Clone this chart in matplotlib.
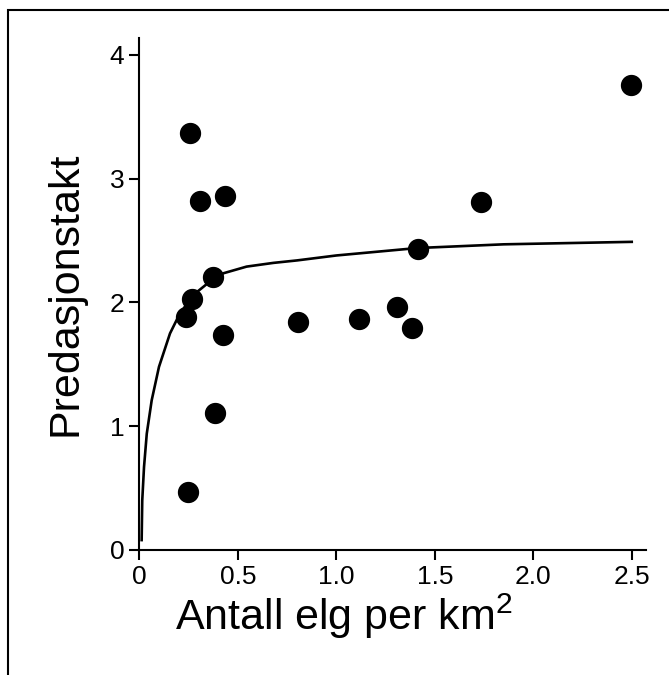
import matplotlib
matplotlib.use("Agg")
import matplotlib.pyplot as plt
from matplotlib.patches import Rectangle

plt.rcParams["font.family"] = ["Liberation Sans", "DejaVu Sans"]
plt.rcParams["mathtext.fontset"] = "custom"
plt.rcParams["mathtext.rm"] = "Liberation Sans"

# observed points: moose density vs predation rate
elg = [0.256, 0.307, 0.434, 0.372, 0.268, 0.236, 0.422, 0.385, 0.246,
       0.807, 1.115, 1.306, 1.386, 1.413, 1.734, 2.496]
predasjon = [3.37, 2.82, 2.86, 2.21, 2.03, 1.88, 1.74, 1.11, 0.47,
             1.845, 1.867, 1.966, 1.796, 2.43, 2.81, 3.755]

# fitted response curve
curve_x = [0.011, 0.014, 0.023, 0.037, 0.062, 0.099, 0.155, 0.197, 0.265,
           0.358, 0.426, 0.544, 0.68, 0.80, 1.0, 1.41, 1.85, 2.50]
curve_y = [0.08, 0.40, 0.67, 0.94, 1.21, 1.48, 1.75, 1.885, 2.05,
           2.17, 2.236, 2.29, 2.32, 2.34, 2.38, 2.44, 2.47, 2.49]

xticks = [0, 0.5, 1.0, 1.5, 2.0, 2.5]
xticklabels = ["0", "0.5", "1.0", "1.5", "2.0", "2.5"]
yticks = [0, 1, 2, 3, 4]

fig = plt.figure(figsize=(6.69, 6.75), dpi=100)
ax = fig.add_axes([0.2085, 0.1852, 0.7564, 0.759])

ax.plot(curve_x, curve_y, color="black", lw=1.9, solid_joinstyle="round")
ax.scatter(elg, predasjon, s=205, color="black", zorder=3, clip_on=False)

ax.set_xlim(0, 2.57)
ax.set_ylim(0, 4.14)
ax.set_xticks(xticks)
ax.set_xticklabels(xticklabels)
ax.set_yticks(yticks)

for side in ["top", "right"]:
    ax.spines[side].set_visible(False)
for side in ["left", "bottom"]:
    ax.spines[side].set_linewidth(1.5)

ax.tick_params(direction="out", length=7, width=1.5, labelsize=19, pad=4)

ax.set_xlabel(r"Antall elg per km$\mathregular{^2}$", fontsize=31)
ax.xaxis.set_label_coords(0.404, -0.081)
ax.set_ylabel("Predasjonstakt", fontsize=31, labelpad=17)

# outer frame, cut off at right and bottom
fig.patches.append(Rectangle((0.012, -0.1), 1.2, 1.085, transform=fig.transFigure,
                             fill=False, lw=1.5, edgecolor="black"))

fig.savefig("out.png", dpi=100)
